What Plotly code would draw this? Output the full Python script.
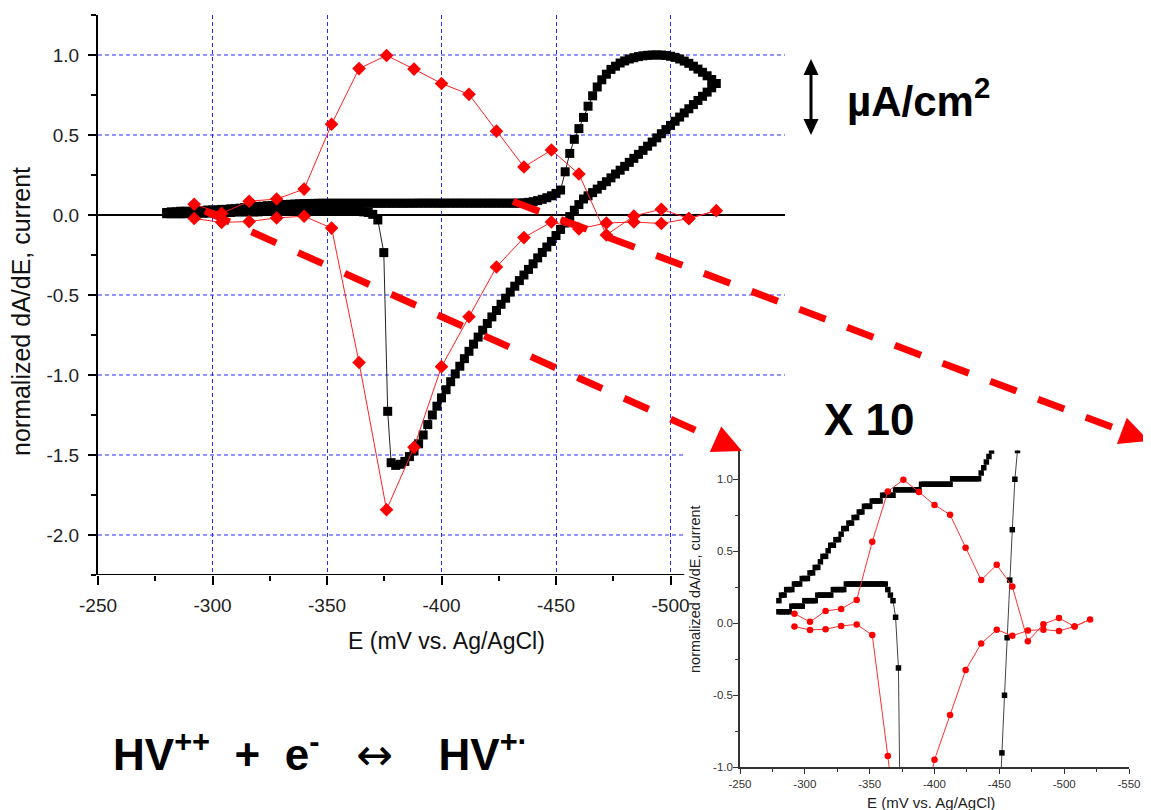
import plotly.graph_objects as go

W, H = 1151, 810
OX, OY = 8, 8  # page body margin offset of the plot div
FONT = "Liberation Sans, Arial, sans-serif"

# ---------------- data ----------------
# red: normalized dA/dE (diamonds in main chart, circles in inset)
red_x = [-292, -304, -316, -328, -340, -352, -364, -376, -388, -400,
         -412, -424, -436, -448, -460, -472, -484, -496, -508, -520]
red_upper = [0.067, 0.010, 0.086, 0.100, 0.162, 0.567, 0.915, 0.997, 0.912, 0.822,
             0.754, 0.524, 0.300, 0.406, 0.256, -0.125, -0.006, 0.036, -0.022, 0.027]
red_lower_x = [-508, -496, -484, -472, -460, -448, -436, -424, -412, -400,
               -388, -376, -364, -352, -340, -328, -316, -304, -292]
red_lower = [-0.022, -0.053, -0.044, -0.050, -0.087, -0.044, -0.141, -0.325, -0.636, -0.948,
             -1.452, -1.842, -0.922, -0.082, -0.008, -0.018, -0.041, -0.046, -0.022]

# black: normalized current, forward scan
black_fwd_x = [-280, -282, -284, -286, -288, -290, -292, -294, -296, -298,
               -300, -302, -304, -306, -308, -310, -312, -314, -316, -318,
               -320, -322, -324, -326, -328, -330, -332, -334, -336, -338,
               -340, -342, -344, -346, -348, -350, -352, -354, -356, -358,
               -360, -362, -364, -366, -368, -370, -372, -374, -376, -378,
               -380, -382, -384, -386, -388, -390, -392, -394, -396, -398,
               -400, -402, -404, -406, -408, -410, -412, -414, -416, -418,
               -420, -422, -424, -426, -428, -430, -432, -434, -436, -438,
               -440, -442, -444, -446, -448, -450, -452, -454, -456, -458,
               -460, -462, -464, -466, -468, -470, -472, -474, -476, -478,
               -480, -482, -484, -486, -488, -490, -492, -494, -496, -498,
               -500, -502, -504, -506, -508, -510, -512, -514, -516, -518, -520]
# as read in the main chart
black_fwd_y = [0.0157, 0.0196, 0.0196, 0.0234, 0.0234, 0.0234, 0.0273, 0.0273, 0.0273, 0.0311,
               0.0311, 0.0311, 0.0350, 0.0350, 0.0388, 0.0388, 0.0427, 0.0465, 0.0465, 0.0504,
               0.0542, 0.0542, 0.0581, 0.0581, 0.0619, 0.0640, 0.0658, 0.0670, 0.0685, 0.0700,
               0.0710, 0.0720, 0.0725, 0.0730, 0.0735, 0.0735, 0.0735, 0.0735, 0.0735, 0.0735,
               0.0735, 0.0735, 0.0735, 0.0735, 0.0735, 0.0735, 0.0735, 0.0735, 0.0735, 0.0735,
               0.0735, 0.0735, 0.0735, 0.0735, 0.0735, 0.0740, 0.0740, 0.0740, 0.0740, 0.0740,
               0.0740, 0.0740, 0.0740, 0.0740, 0.0740, 0.0740, 0.0740, 0.0740, 0.0740, 0.0740,
               0.0740, 0.0740, 0.0740, 0.0740, 0.0740, 0.0740, 0.0740, 0.0740, 0.0760, 0.0790,
               0.0830, 0.0900, 0.0980, 0.1080, 0.1200, 0.1350, 0.1560, 0.2700, 0.3850, 0.4730,
               0.540, 0.610, 0.680, 0.745, 0.800, 0.845, 0.880, 0.910, 0.930, 0.950,
               0.963, 0.975, 0.983, 0.990, 0.995, 0.998, 1.000, 1.000, 1.000, 0.997,
               0.992, 0.985, 0.975, 0.962, 0.948, 0.930, 0.912, 0.892, 0.870, 0.847, 0.822]
# as read in the X 10 inset (divided by 10)
black_fwd_inset_y = [0.0157, 0.0196, 0.0196, 0.0234, 0.0234, 0.0234, 0.0273, 0.0273, 0.0273, 0.0311,
                     0.0311, 0.0311, 0.0350, 0.0350, 0.0388, 0.0388, 0.0427, 0.0465, 0.0465, 0.0504,
                     0.0542, 0.0542, 0.0581, 0.0581, 0.0619, 0.0658, 0.0658, 0.0696, 0.0696, 0.0735,
                     0.0735, 0.0773, 0.0773, 0.0812, 0.0812, 0.0812, 0.0850, 0.0850, 0.0850, 0.0850,
                     0.0889, 0.0889, 0.0889, 0.0889, 0.0889, 0.0927, 0.0927, 0.0927, 0.0927, 0.0927,
                     0.0927, 0.0927, 0.0927, 0.0927, 0.0927, 0.0966, 0.0966, 0.0966, 0.0966, 0.0966,
                     0.0966, 0.0966, 0.0966, 0.0966, 0.0966, 0.0966, 0.0966, 0.1004, 0.1004, 0.1004,
                     0.1004, 0.1004, 0.1004, 0.1004, 0.1004, 0.1004, 0.1004, 0.1004, 0.1043, 0.1081,
                     0.1120, 0.1158, 0.1197, 0.1230, 0.1300, 0.1400, 0.1560, 0.2700, 0.3850, 0.4730,
                     0.540, 0.610, 0.680, 0.745, 0.800, 0.845, 0.880, 0.910, 0.930, 0.950,
                     0.963, 0.975, 0.983, 0.990, 0.995, 0.998, 1.000, 1.000, 1.000, 0.997,
                     0.992, 0.985, 0.975, 0.962, 0.948, 0.930, 0.912, 0.892, 0.870, 0.847, 0.822]

# black: reverse scan
black_rev_x = [-518, -516, -514, -512, -510, -508, -506, -504, -502, -500,
               -498, -496, -494, -492, -490, -488, -486, -484, -482, -480,
               -478, -476, -474, -472, -470, -468, -466, -464, -462, -460,
               -458, -456, -454, -452, -450, -448, -446, -444, -442, -440,
               -438, -436, -434, -432, -430, -428, -426, -424, -422, -420,
               -418, -416, -414, -412, -410, -408, -406, -404, -402, -400,
               -398, -396, -394, -392, -390, -388, -386, -384, -382, -380,
               -378, -376.5, -374.8, -372.2, -370, -368, -366, -364, -362, -360,
               -358, -356, -354, -352, -350, -348, -346, -344, -342, -340,
               -338, -336, -334, -332, -330, -328, -326, -324, -322, -320,
               -318, -316, -314, -312, -310, -308, -306, -304, -302, -300,
               -298, -296, -294, -292, -290, -288, -286, -284, -282, -280]
black_rev_y = [0.795, 0.768, 0.742, 0.716, 0.690, 0.664, 0.638, 0.612, 0.586, 0.560,
               0.534, 0.508, 0.482, 0.456, 0.430, 0.404, 0.379, 0.354, 0.329, 0.304,
               0.280, 0.256, 0.232, 0.208, 0.185, 0.162, 0.140, 0.120, 0.100, 0.065,
               0.030, -0.010, -0.050, -0.090, -0.128, -0.165, -0.200, -0.234, -0.268, -0.305,
               -0.340, -0.375, -0.410, -0.445, -0.482, -0.520, -0.558, -0.597, -0.637, -0.678,
               -0.720, -0.763, -0.807, -0.852, -0.898, -0.945, -0.993, -1.042, -1.092, -1.143,
               -1.195, -1.250, -1.310, -1.375, -1.430, -1.475, -1.510, -1.540, -1.558, -1.565,
               -1.548, -1.227, -0.235, -0.031, 0.0042, 0.0157, 0.0196, 0.0234, 0.0273, 0.0273,
               0.0273, 0.0273, 0.0273, 0.0273, 0.0273, 0.0273, 0.0273, 0.0273, 0.0273, 0.0273,
               0.0273, 0.0273, 0.0273, 0.0273, 0.0234, 0.0234, 0.0234, 0.0234, 0.0234, 0.0196,
               0.0196, 0.0196, 0.0196, 0.0196, 0.0196, 0.0157, 0.0157, 0.0157, 0.0157, 0.0157,
               0.0119, 0.0119, 0.0119, 0.0119, 0.0119, 0.0080, 0.0080, 0.0080, 0.0080, 0.0080]

inset_current_factor = 10  # "X 10"

main_x_ticks = [-250, -300, -350, -400, -450, -500]
main_x_labels = ["-250", "-300", "-350", "-400", "-450", "-500"]
main_x_minor = [-275, -325, -375, -425, -475]
main_y_ticks = [1.0, 0.5, 0.0, -0.5, -1.0, -1.5, -2.0]
main_y_labels = ["1.0", "0.5", "0.0", "-0.5", "-1.0", "-1.5", "-2.0"]
inset_x_ticks = [-250, -300, -350, -400, -450, -500, -550]
inset_x_labels = ["-250", "-300", "-350", "-400", "-450", "-500", "-550"]
inset_y_ticks = [1.0, 0.5, 0.0, -0.5, -1.0]
inset_y_labels = ["1.0", "0.5", "0.0", "-0.5", "-1.0"]

assert len(black_fwd_x) == len(black_fwd_y) == len(black_fwd_inset_y)
assert len(black_rev_x) == len(black_rev_y)
assert len(red_x) == len(red_upper) and len(red_lower_x) == len(red_lower)

black_x = black_fwd_x + black_rev_x
black_y = black_fwd_y + black_rev_y
black_inset_y = [v * inset_current_factor for v in black_fwd_inset_y + black_rev_y]
red_all_x = red_x + red_lower_x
red_all_y = red_upper + red_lower

# ---------------- figure ----------------
fig = go.Figure()

fig.add_trace(go.Scatter(x=black_x, y=black_y, mode="lines+markers",
                         line=dict(color="#222", width=1),
                         marker=dict(symbol="square", size=9, color="black", line=dict(width=0)),
                         xaxis="x", yaxis="y", hoverinfo="skip"))
fig.add_trace(go.Scatter(x=red_all_x, y=red_all_y, mode="lines+markers",
                         line=dict(color="#ff2020", width=1),
                         marker=dict(symbol="diamond", size=10.5, color="#ff0000", line=dict(width=0)),
                         xaxis="x", yaxis="y", hoverinfo="skip"))

# inset
fig.add_trace(go.Scatter(x=black_x, y=black_inset_y, mode="lines+markers",
                         line=dict(color="#444", width=1),
                         marker=dict(symbol="square", size=5.5, color="black", line=dict(width=0)),
                         xaxis="x2", yaxis="y2", hoverinfo="skip"))
fig.add_trace(go.Scatter(x=red_all_x, y=red_all_y, mode="lines+markers",
                         line=dict(color="#ff3030", width=1),
                         marker=dict(symbol="circle", size=6.5, color="#ff0000", line=dict(width=0)),
                         xaxis="x2", yaxis="y2", hoverinfo="skip"))


def px(x):
    return (x - OX) / W


def py(y):
    return 1 - (y - OY) / H


tickfont_main = dict(family=FONT, size=19, color="#222")
tickfont_inset = dict(family=FONT, size=11.5, color="#333")

fig.update_layout(
    template="none",
    width=W, height=H, margin=dict(l=0, r=0, t=0, b=0, pad=0), autosize=False,
    paper_bgcolor="white", plot_bgcolor="rgba(0,0,0,0)", showlegend=False,
    font=dict(family=FONT, color="#222"),
    xaxis=dict(domain=[px(98), px(785)], range=[-250, -550], anchor="y", automargin=False,
               tickmode="array", tickvals=main_x_ticks, ticktext=main_x_labels,
               ticks="outside", ticklen=9, tickwidth=2, tickcolor="black",
               showline=False, zeroline=False,
               showgrid=True, gridcolor="#2a2aff", gridwidth=1, griddash="4px,3px",
               tickfont=tickfont_main, ticklabelstandoff=4,
               minor=dict(tickmode="array", tickvals=main_x_minor, ticks="outside",
                          ticklen=5, tickwidth=2, tickcolor="black", showgrid=False)),
    yaxis=dict(domain=[py(575), py(15)], range=[-2.25, 1.25], anchor="x", automargin=False,
               tickmode="array", tickvals=main_y_ticks, ticktext=main_y_labels,
               ticks="outside", ticklen=8, tickwidth=2, tickcolor="black",
               showline=True, linewidth=2, linecolor="black",
               showgrid=False, zeroline=False,
               tickfont=tickfont_main, ticklabelstandoff=5,
               minor=dict(dtick=0.25, tick0=0, ticks="outside",
                          ticklen=5, tickwidth=2, tickcolor="black", showgrid=False)),
    xaxis2=dict(domain=[px(740), px(1129)], range=[-250, -550], anchor="y2", automargin=False,
                tickmode="array", tickvals=inset_x_ticks, ticktext=inset_x_labels,
                ticks="outside", ticklen=5, tickwidth=1, tickcolor="#333",
                showline=True, linewidth=1.5, linecolor="#333",
                showgrid=False, zeroline=False, tickfont=tickfont_inset,
                minor=dict(dtick=25, tick0=0, ticks="outside", ticklen=3, tickwidth=1,
                           tickcolor="#333", showgrid=False)),
    yaxis2=dict(domain=[py(767.3), py(450.5)], range=[-1.0, 1.2], anchor="x2", automargin=False,
                tickmode="array", tickvals=inset_y_ticks, ticktext=inset_y_labels,
                ticks="outside", ticklen=5, tickwidth=1, tickcolor="#333",
                showline=True, linewidth=1.5, linecolor="#333",
                showgrid=False, zeroline=False, tickfont=tickfont_inset, ticklabelstandoff=-2,
                minor=dict(dtick=0.25, tick0=0, ticks="outside", ticklen=3, tickwidth=1,
                           tickcolor="#333", showgrid=False)),
)

shapes = []
# horizontal dotted grid lines of the main chart (lower ones are hidden by the inset)
for v in main_y_ticks:
    if v == 0:
        continue
    x_end = -550 if v > -1.25 else -506
    shapes.append(dict(type="line", xref="x", yref="y", x0=-250, x1=x_end, y0=v, y1=v,
                       line=dict(color="#2a2aff", width=1, dash="4px,3px"), layer="below"))
# zero line
shapes.append(dict(type="line", xref="x", yref="y", x0=-250, x1=-551, y0=0, y1=0,
                   line=dict(color="black", width=2), layer="below"))
# main bottom axis line (cut by inset)
shapes.append(dict(type="line", xref="x", yref="y", x0=-250, x1=-506, y0=-2.25, y1=-2.25,
                   line=dict(color="black", width=2), layer="above"))


def arrow(start, tip, color, width, dash, head_len, head_half):
    (x0, y0), (x1, y1) = start, tip
    L = ((x1 - x0) ** 2 + (y1 - y0) ** 2) ** 0.5
    dx, dy = (x1 - x0) / L, (y1 - y0) / L
    bx, by = x1 - head_len * dx, y1 - head_len * dy
    nx, ny = -dy, dx
    out = [dict(type="line", xref="paper", yref="paper",
                x0=px(x0), y0=py(y0), x1=px(bx + 2 * dx), y1=py(by + 2 * dy),
                line=dict(color=color, width=width, dash=dash), layer="above")]
    c1 = (bx + head_half * nx, by + head_half * ny)
    c2 = (bx - head_half * nx, by - head_half * ny)
    path = "M {},{} L {},{} L {},{} Z".format(px(x1), py(y1), px(c1[0]), py(c1[1]),
                                              px(c2[0]), py(c2[1]))
    out.append(dict(type="path", xref="paper", yref="paper", path=path,
                    fillcolor=color, line=dict(color=color, width=0), layer="above"))
    return out


shapes += arrow((205, 211), (742, 451), "#ff0000", 7, "27px,24px", 29, 14)
shapes += arrow((513, 201.5), (1149, 441), "#ff0000", 7, "28px,23px", 29, 14)

# black double arrow (scale bar)
shapes.append(dict(type="line", xref="paper", yref="paper", x0=px(811), x1=px(811),
                   y0=py(70), y1=py(124), line=dict(color="black", width=3)))
for tip_y, base_y in [(59, 75), (135, 119)]:
    shapes.append(dict(type="path", xref="paper", yref="paper",
                       path="M {},{} L {},{} L {},{} Z".format(px(811), py(tip_y), px(803.5), py(base_y),
                                                              px(818.5), py(base_y)),
                       fillcolor="black", line=dict(color="black", width=0)))

fig.update_layout(shapes=shapes)

NB = "\u00a0"
annotations = [
    dict(text="normalized dA/dE, current", x=px(21), y=py(312), textangle=-90,
         font=dict(family=FONT, size=25, color="#111")),
    dict(text="E (mV vs. Ag/AgCl)", x=px(446), y=py(641),
         font=dict(family=FONT, size=23, color="#111")),
    dict(text="normalized dA/dE, current", x=px(695), y=py(589), textangle=-90,
         font=dict(family=FONT, size=14.5, color="#222")),
    dict(text="E (mV vs. Ag/AgCl)", x=px(931), y=py(802),
         font=dict(family=FONT, size=15, color="#222")),
    dict(text="<b>X 10</b>", x=px(869), y=py(419),
         font=dict(family=FONT, size=44, color="black")),
    dict(text="<b>µA/cm<sup>2</sup></b>", x=px(845), y=py(98), xanchor="left",
         font=dict(family=FONT, size=42, color="black")),
    dict(text="<b>HV<sup>++</sup>" + NB * 2 + "+" + NB * 2 + "e<sup>-</sup>" + NB * 3 + "</b>"
              + "<span style=\"font-family:'DejaVu Sans'\">↔</span><b>"
              + NB * 3 + "\u2009HV<sup>+·</sup></b>",
         x=px(111), y=py(752), xanchor="left",
         font=dict(family=FONT, size=44, color="black")),
]
for a in annotations:
    a.setdefault("xref", "paper")
    a.setdefault("yref", "paper")
    a.setdefault("showarrow", False)
    a.setdefault("xanchor", "center")
    a.setdefault("yanchor", "middle")
fig.update_layout(annotations=annotations)

fig.write_html("out.html")
